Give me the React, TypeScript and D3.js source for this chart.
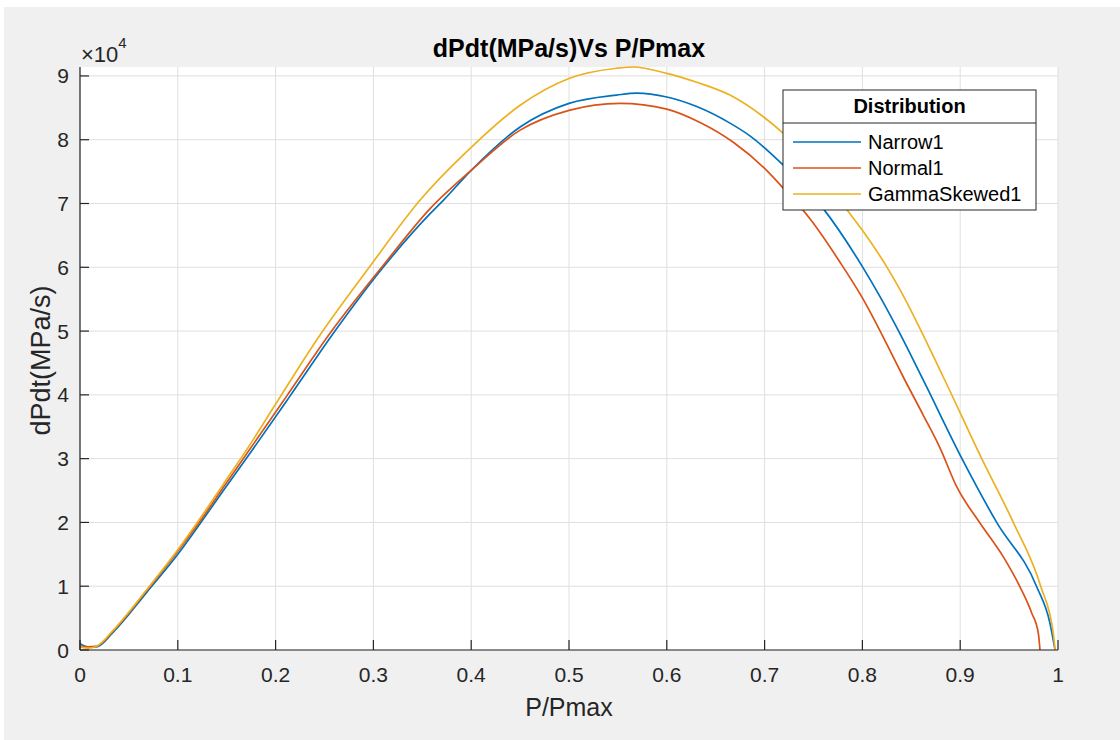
import React, { useRef, useEffect } from "react";
import * as d3 from "d3";

// values, y in units of 1e4 MPa/s
const narrowX = [0, 0.008, 0.017, 0.034, 0.068, 0.1, 0.1227, 0.1466, 0.1755, 0.2147, 0.2607, 0.31, 0.358, 0.3715, 0.4, 0.45, 0.5, 0.5487, 0.5692, 0.6, 0.6306, 0.6646, 0.685, 0.7191, 0.76, 0.8, 0.818, 0.8384, 0.8623, 0.9018, 0.9373, 0.978, 0.9918, 0.997];
const narrowY = [0.1, 0.05, 0.05, 0.28, 0.9, 1.5, 1.98, 2.5, 3.12, 3.98, 5.0, 6.0, 6.84, 7.05, 7.52, 8.2, 8.57, 8.7, 8.73, 8.67, 8.52, 8.26, 8.06, 7.6, 6.92, 6.01, 5.54, 4.96, 4.23, 3.0, 2.0, 1.0, 0.42, 0];

const normalX = [0, 0.008, 0.017, 0.034, 0.068, 0.1, 0.1227, 0.1466, 0.1738, 0.2113, 0.2573, 0.3085, 0.358, 0.4, 0.45, 0.5, 0.5521, 0.6, 0.634, 0.668, 0.7, 0.7191, 0.7464, 0.7771, 0.8, 0.8248, 0.8418, 0.8623, 0.8793, 0.8964, 0.9202, 0.9441, 0.9611, 0.9731, 0.9799, 0.9816];
const normalY = [0.06, 0.05, 0.06, 0.3, 0.93, 1.55, 2.02, 2.55, 3.15, 3.98, 5.0, 6.0, 6.92, 7.52, 8.15, 8.46, 8.57, 8.48, 8.27, 7.96, 7.55, 7.24, 6.76, 6.08, 5.52, 4.8, 4.28, 3.68, 3.17, 2.56, 1.99, 1.46, 0.99, 0.58, 0.26, 0];

const gammaX = [0, 0.008, 0.017, 0.034, 0.068, 0.1, 0.1227, 0.1466, 0.1738, 0.1994, 0.2437, 0.2948, 0.3476, 0.4, 0.45, 0.5, 0.5487, 0.5658, 0.6, 0.6306, 0.6646, 0.6987, 0.7191, 0.7873, 0.8, 0.8248, 0.8384, 0.8827, 0.922, 0.9543, 0.9823, 0.9952, 0.997];
const gammaY = [0.05, 0.03, 0.06, 0.31, 0.94, 1.57, 2.06, 2.6, 3.22, 3.84, 4.9, 5.98, 7.05, 7.88, 8.54, 8.96, 9.12, 9.14, 9.04, 8.9, 8.7, 8.36, 8.1, 6.84, 6.58, 6.01, 5.65, 4.28, 3.0, 2.0, 1.0, 0.26, 0];

const seriesNames = ["Narrow1", "Normal1", "GammaSkewed1"];
const seriesColors = ["#0072BD", "#D95319", "#EDB120"];
const xTicks = [0, 0.1, 0.2, 0.3, 0.4, 0.5, 0.6, 0.7, 0.8, 0.9, 1];
const yTicks = [0, 1, 2, 3, 4, 5, 6, 7, 8, 9];

const FONT = "'Liberation Sans', Arial, Helvetica, sans-serif";
const INK = "#262626";

const App = () => {
  const svgRef = useRef<SVGSVGElement>(null);

  useEffect(() => {
    const width = 1120;
    const height = 740;
    const plot = { left: 80, right: 1058, top: 67, bottom: 650 };

    const svg = d3.select(svgRef.current).attr("width", width).attr("height", height).html("");

    svg.append("rect").attr("width", width).attr("height", height).attr("fill", "#ffffff");
    svg.append("rect").attr("x", 4).attr("y", 7).attr("width", width - 4).attr("height", height - 7).attr("fill", "#f0f0f0");

    const x = d3.scaleLinear().domain([0, 1]).range([plot.left, plot.right]);
    const y = d3.scaleLinear().domain([0, 9.14]).range([plot.bottom, plot.top]);

    svg.append("rect")
      .attr("x", plot.left).attr("y", plot.top)
      .attr("width", plot.right - plot.left).attr("height", plot.bottom - plot.top)
      .attr("fill", "#ffffff");

    // grid
    const grid = svg.append("g").attr("stroke", "#dfdfdf").attr("stroke-width", 1);
    xTicks.forEach((t) => {
      grid.append("line").attr("x1", x(t)).attr("x2", x(t)).attr("y1", plot.top).attr("y2", plot.bottom);
    });
    yTicks.forEach((t) => {
      grid.append("line").attr("x1", plot.left).attr("x2", plot.right).attr("y1", y(t)).attr("y2", y(t));
    });

    // curves
    const line = d3.line<[number, number]>()
      .x((d) => x(d[0]))
      .y((d) => y(d[1]))
      .curve(d3.curveMonotoneX);

    const data = [
      d3.zip(narrowX, narrowY),
      d3.zip(normalX, normalY),
      d3.zip(gammaX, gammaY),
    ] as [number, number][][];

    const curves = svg.append("g");
    data.forEach((pts, i) => {
      curves.append("path")
        .attr("d", line(pts))
        .attr("fill", "none")
        .attr("stroke", seriesColors[i])
        .attr("stroke-width", 1.7)
        .attr("stroke-linejoin", "round");
    });

    // axes (MATLAB style: ticks inside, no box)
    const axes = svg.append("g").attr("stroke", INK).attr("stroke-width", 1.2);
    axes.append("line").attr("x1", plot.left).attr("x2", plot.left).attr("y1", plot.top).attr("y2", plot.bottom);
    axes.append("line").attr("x1", plot.left).attr("x2", plot.right).attr("y1", plot.bottom).attr("y2", plot.bottom);
    xTicks.forEach((t) => {
      axes.append("line").attr("x1", x(t)).attr("x2", x(t)).attr("y1", plot.bottom).attr("y2", plot.bottom - 10);
    });
    yTicks.forEach((t) => {
      axes.append("line").attr("x1", plot.left).attr("x2", plot.left + 9).attr("y1", y(t)).attr("y2", y(t));
    });

    const labels = svg.append("g").attr("font-family", FONT).attr("fill", INK).attr("font-size", 21);
    xTicks.forEach((t) => {
      labels.append("text")
        .attr("x", x(t)).attr("y", 682)
        .attr("text-anchor", "middle")
        .text(d3.format("~g")(t));
    });
    yTicks.forEach((t) => {
      labels.append("text")
        .attr("x", 69).attr("y", y(t) + 7.5)
        .attr("text-anchor", "end")
        .text(t);
    });

    // exponent
    const expo = labels.append("text").attr("x", 81).attr("y", 62).attr("font-size", 22);
    expo.append("tspan").text("\u00d710");
    expo.append("tspan").attr("font-size", 15).attr("dy", -14).text("4");

    // title and axis labels
    svg.append("text")
      .attr("x", (plot.left + plot.right) / 2).attr("y", 57)
      .attr("text-anchor", "middle")
      .attr("font-family", FONT).attr("font-weight", "bold").attr("font-size", 25)
      .attr("fill", "#000000")
      .text("dPdt(MPa/s)Vs P/Pmax");

    svg.append("text")
      .attr("x", (plot.left + plot.right) / 2).attr("y", 716)
      .attr("text-anchor", "middle")
      .attr("font-family", FONT).attr("font-size", 25)
      .attr("fill", INK)
      .text("P/Pmax");

    svg.append("text")
      .attr("transform", `translate(50,${(plot.top + plot.bottom) / 2 + 2}) rotate(-90)`)
      .attr("text-anchor", "middle")
      .attr("font-family", FONT).attr("font-size", 27)
      .attr("fill", INK)
      .text("dPdt(MPa/s)");

    // legend
    const lg = { x: 783, y: 90, w: 253, h: 120 };
    const legend = svg.append("g").attr("font-family", FONT);
    legend.append("rect")
      .attr("x", lg.x).attr("y", lg.y).attr("width", lg.w).attr("height", lg.h)
      .attr("fill", "#ffffff").attr("stroke", INK).attr("stroke-width", 1);
    legend.append("text")
      .attr("x", lg.x + lg.w / 2).attr("y", 113)
      .attr("text-anchor", "middle")
      .attr("font-weight", "bold").attr("font-size", 20).attr("fill", "#000000")
      .text("Distribution");
    legend.append("line")
      .attr("x1", lg.x).attr("x2", lg.x + lg.w).attr("y1", 123).attr("y2", 123)
      .attr("stroke", INK).attr("stroke-width", 1);
    seriesNames.forEach((name, i) => {
      const cy = 142 + i * 26;
      legend.append("line")
        .attr("x1", 793).attr("x2", 861).attr("y1", cy).attr("y2", cy)
        .attr("stroke", seriesColors[i]).attr("stroke-width", 1.3);
      legend.append("text")
        .attr("x", 868).attr("y", cy + 7)
        .attr("font-size", 20).attr("fill", "#000000")
        .text(name);
    });
  }, []);

  return <svg ref={svgRef} style={{ position: "absolute", left: 0, top: 0 }} />;
};

export default App;
